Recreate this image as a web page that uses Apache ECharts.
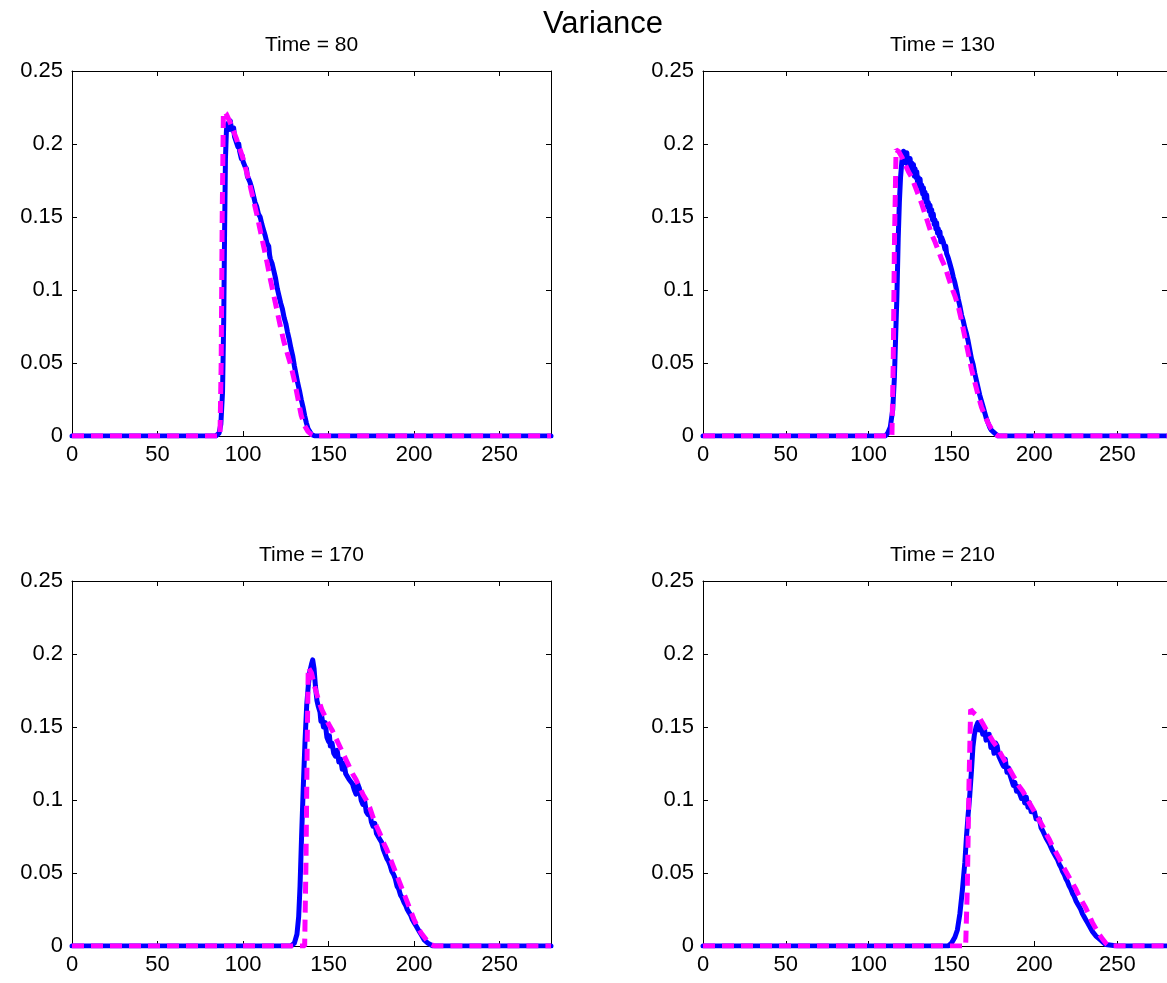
<!DOCTYPE html>
<html>
<head>
<meta charset="utf-8">
<script src="https://cdn.jsdelivr.net/npm/echarts@6/dist/echarts.min.js"></script>
<style>html,body{margin:0;padding:0;background:#fff;}#c{width:1167px;height:983px;}</style>
</head>
<body>
<div id="c"></div>
<script>
const mainTitle = 'Variance';
const panelTitles = ['Time = 80', 'Time = 130', 'Time = 170', 'Time = 210'];
const xTicks = [0, 50, 100, 150, 200, 250];
const yTicks = [0, 0.05, 0.1, 0.15, 0.2, 0.25];

const blue80 = [[0,0],[84,0],[86,0.002],[87,0.008],[88,0.03],[88.7,0.08],[89.2,0.14],[89.7,0.19],[90.3,0.21],[91,0.214],[92,0.21],[92.5,0.216],[93,0.212],[94,0.209],[94.5,0.211],[95,0.205],[96,0.204],[97,0.198],[97.5,0.2],[98,0.195],[99,0.19],[99.5,0.192],[100,0.188],[101,0.185],[102,0.183],[102.5,0.178],[103,0.179],[104,0.174],[105,0.17],[105.5,0.171],[106,0.165],[107,0.16],[107.5,0.161],[108,0.157],[109,0.152],[110,0.15],[110.5,0.151],[111,0.145],[112,0.141],[113,0.137],[113.5,0.138],[114,0.132],[115,0.13],[115.5,0.124],[116,0.121],[117,0.118],[118,0.113],[118.5,0.114],[119,0.108],[120,0.101],[121,0.096],[121.5,0.097],[122,0.091],[123,0.087],[124,0.081],[125,0.077],[126,0.071],[126.5,0.07],[127,0.066],[128,0.06],[129,0.055],[130,0.048],[131,0.042],[132,0.036],[133,0.031],[134,0.025],[135,0.02],[136,0.014],[137,0.009],[138,0.005],[139,0.003],[140,0.001],[142,0],[280,0]];
const mag80 = [[0,0],[86.5,0],[87.2,0.05],[87.8,0.15],[88.5,0.222],[90,0.221],[92,0.216],[94,0.21],[96,0.204],[98,0.197],[100,0.19],[102,0.181],[104,0.172],[106,0.162],[108,0.152],[110,0.141],[112,0.13],[114,0.119],[116,0.107],[118,0.096],[120,0.085],[122,0.074],[124,0.064],[126,0.056],[128,0.048],[130,0.038],[132,0.026],[134,0.014],[136,0.007],[138,0.003],[140,0.001],[142,0],[280,0]];

const blue130 = [[0,0],[110,0],[111.5,0.002],[113,0.006],[114.5,0.018],[115.5,0.04],[116.3,0.07],[117,0.095],[117.8,0.135],[118.5,0.16],[119.2,0.177],[120,0.188],[120.5,0.192],[121,0.195],[121.5,0.189],[122,0.193],[122.5,0.187],[123,0.194],[123.5,0.186],[124,0.19],[124.5,0.184],[125,0.19],[125.5,0.183],[126,0.187],[126.5,0.181],[127,0.186],[127.5,0.178],[128,0.183],[128.5,0.177],[129,0.181],[129.5,0.173],[130,0.177],[130.5,0.171],[131,0.176],[131.5,0.168],[132,0.172],[132.5,0.166],[133,0.17],[133.5,0.163],[134,0.167],[134.5,0.16],[135,0.165],[135.5,0.157],[136,0.16],[136.5,0.154],[137,0.158],[137.5,0.151],[138,0.155],[138.5,0.148],[139,0.152],[139.5,0.145],[140,0.148],[140.5,0.142],[141,0.146],[141.5,0.139],[142,0.142],[142.5,0.137],[143,0.14],[143.5,0.133],[144,0.136],[145,0.133],[146,0.128],[146.5,0.13],[147,0.125],[148,0.122],[149,0.118],[150,0.114],[151,0.109],[152,0.105],[153,0.1],[154,0.094],[155,0.089],[156,0.083],[157,0.079],[158,0.074],[159,0.07],[160,0.065],[161,0.059],[162,0.053],[163,0.049],[164,0.043],[165,0.038],[166,0.033],[167,0.028],[168,0.024],[169,0.02],[170,0.016],[171,0.012],[172,0.009],[173,0.006],[174,0.004],[176,0.002],[178,0],[280,0]];
const mag130 = [[0,0],[114,0],[114.8,0.05],[115.5,0.13],[116.5,0.196],[118,0.195],[120,0.191],[122,0.186],[124,0.181],[126,0.177],[128,0.171],[130,0.165],[132,0.159],[134,0.152],[136,0.145],[138,0.138],[140,0.133],[142,0.127],[144,0.121],[146,0.116],[148,0.109],[150,0.102],[152,0.096],[154,0.089],[156,0.079],[158,0.068],[160,0.057],[162,0.046],[164,0.037],[166,0.028],[168,0.02],[170,0.014],[172,0.009],[174,0.005],[176,0.002],[178,0],[280,0]];

const blue170 = [[0,0],[128,0],[130,0.002],[131.5,0.008],[132.5,0.02],[133.3,0.041],[134.2,0.075],[135.2,0.109],[136.2,0.14],[137.2,0.165],[138.1,0.178],[139,0.188],[140,0.193],[140.7,0.196],[141.5,0.19],[142.3,0.178],[143.2,0.168],[144,0.164],[145,0.16],[145.5,0.154],[146,0.157],[147,0.15],[148,0.153],[149,0.143],[150,0.14],[150.5,0.144],[151,0.137],[152,0.139],[153,0.132],[154,0.13],[155,0.134],[156,0.126],[157,0.128],[158,0.121],[159,0.125],[160,0.118],[161,0.117],[162,0.114],[163,0.115],[164,0.111],[165,0.107],[166,0.104],[167,0.111],[168,0.108],[169,0.1],[170,0.097],[171,0.1],[172,0.092],[173,0.09],[174,0.092],[175,0.085],[176,0.082],[177,0.084],[178,0.077],[179,0.076],[180,0.073],[181,0.071],[182,0.066],[183,0.066],[184,0.06],[185,0.058],[186,0.055],[187,0.051],[188,0.049],[189,0.046],[190,0.041],[191,0.039],[192,0.035],[193,0.033],[194,0.03],[195,0.028],[196,0.025],[197,0.023],[198,0.021],[199,0.018],[200,0.016],[201,0.014],[202,0.012],[203,0.01],[204,0.008],[205,0.006],[206,0.004],[208,0.002],[211,0],[280,0]];
const mag170 = [[0,0],[136,0],[136.8,0.06],[137.5,0.14],[138.1,0.191],[139,0.19],[140,0.187],[141,0.182],[142,0.177],[143,0.173],[144,0.169],[146,0.162],[148,0.157],[150,0.152],[152,0.148],[154,0.143],[156,0.138],[158,0.133],[160,0.128],[162,0.123],[164,0.118],[166,0.114],[168,0.109],[170,0.104],[172,0.1],[174,0.095],[176,0.088],[178,0.082],[180,0.077],[182,0.071],[184,0.066],[186,0.06],[188,0.054],[190,0.048],[192,0.042],[194,0.036],[196,0.03],[198,0.024],[200,0.018],[202,0.013],[204,0.009],[206,0.006],[208,0.003],[210,0.001],[212,0],[280,0]];

const blue210 = [[0,0],[148,0],[150,0.002],[152,0.006],[153.5,0.011],[155,0.022],[156.5,0.038],[158,0.057],[159,0.075],[160,0.09],[160.9,0.102],[162,0.12],[162.9,0.1365],[163.8,0.145],[164.8,0.15],[165.8,0.153],[166.8,0.148],[167.8,0.152],[168.8,0.145],[169.8,0.149],[170.8,0.141],[171.7,0.14],[172.7,0.145],[173.7,0.136],[174.6,0.14],[175.6,0.132],[176.6,0.139],[177.5,0.137],[178.5,0.13],[179.5,0.131],[180.5,0.125],[181.4,0.123],[182.4,0.128],[183.4,0.119],[184.4,0.122],[185.3,0.117],[186.3,0.117],[187.3,0.11],[188.2,0.112],[189.2,0.106],[190.2,0.109],[191.2,0.104],[192.2,0.101],[193.1,0.105],[194.1,0.098],[195.1,0.102],[196.1,0.095],[197,0.098],[198,0.092],[199,0.091],[200,0.092],[201,0.087],[202,0.086],[203,0.087],[204,0.081],[205,0.079],[206,0.08],[207,0.074],[208,0.073],[209,0.07],[210,0.069],[211,0.065],[212,0.063],[213,0.061],[214,0.059],[215,0.056],[216,0.054],[217,0.051],[218,0.049],[219,0.046],[220,0.044],[221,0.041],[222,0.039],[223,0.036],[224,0.034],[225,0.031],[226,0.029],[227,0.027],[228,0.025],[229,0.022],[230,0.02],[231,0.018],[232,0.016],[233,0.014],[234,0.012],[235,0.01],[236,0.009],[237,0.007],[238,0.006],[240,0.004],[243,0.001],[250,0],[280,0]];
const mag210 = [[0,0],[158.5,0],[159.5,0.04],[160.5,0.11],[161.5,0.162],[163,0.16],[165,0.158],[167,0.156],[169,0.152],[171,0.148],[173,0.144],[175,0.14],[177,0.137],[179,0.133],[181,0.129],[183,0.125],[185,0.121],[187,0.117],[189,0.113],[191,0.109],[193,0.106],[195,0.102],[197,0.098],[199,0.094],[201,0.09],[203,0.086],[205,0.082],[207,0.077],[209,0.073],[211,0.068],[213,0.064],[215,0.06],[217,0.055],[219,0.051],[221,0.047],[223,0.043],[225,0.039],[227,0.034],[229,0.03],[231,0.026],[233,0.021],[235,0.016],[237,0.012],[239,0.008],[241,0.005],[243,0.002],[245,0],[280,0]];

const blueSets = [blue80, blue130, blue170, blue210];
const magSets = [mag80, mag130, mag170, mag210];

const FONT = '"Liberation Sans", Arial, Helvetica, sans-serif';
const gridPos = [
  {left: 72, top: 71}, {left: 703, top: 71},
  {left: 72, top: 581}, {left: 703, top: 581}
];
const GW = 479, GH = 365;

const grids = [], xAxes = [], yAxes = [], series = [], graphics = [];
const xFmt = v => (xTicks.indexOf(v) >= 0 ? String(v) : '');
const yFmt = v => {
  const m = yTicks.find(t => Math.abs(t - v) < 1e-9);
  return m === undefined ? '' : String(m);
};

gridPos.forEach((g, i) => {
  grids.push({left: g.left, top: g.top, width: GW, height: GH, containLabel: false});
  const common = {
    type: 'value', gridIndex: i, splitLine: {show: false},
    axisLine: {show: true, onZero: false, lineStyle: {color: '#000', width: 1}},
    axisTick: {show: true, inside: true, length: 5, lineStyle: {color: '#000', width: 1}}
  };
  xAxes.push(Object.assign({}, common, {
    position: 'bottom', min: 0, max: 280, interval: 50,
    axisLabel: {show: true, color: '#000', fontSize: 22, fontFamily: FONT, margin: 8, formatter: xFmt, showMaxLabel: false}
  }));
  xAxes.push(Object.assign({}, common, {
    position: 'top', min: 0, max: 280, interval: 50,
    axisLabel: {show: false}
  }));
  yAxes.push(Object.assign({}, common, {
    position: 'left', min: 0, max: 0.25, interval: 0.05,
    axisLabel: {show: true, color: '#000', fontSize: 22, fontFamily: FONT, margin: 9, formatter: yFmt}
  }));
  yAxes.push(Object.assign({}, common, {
    position: 'right', min: 0, max: 0.25, interval: 0.05,
    axisLabel: {show: false}
  }));
  series.push({
    type: 'line', xAxisIndex: 2 * i, yAxisIndex: 2 * i, data: blueSets[i],
    showSymbol: false, symbol: 'none', smooth: false, clip: true, z: 2,
    lineStyle: {color: '#0000ff', width: 5, join: 'round', cap: 'round'}
  });
  series.push({
    type: 'line', xAxisIndex: 2 * i, yAxisIndex: 2 * i, data: magSets[i],
    showSymbol: false, symbol: 'none', smooth: false, clip: true, z: 3,
    lineStyle: {color: '#ff00ff', width: 5, type: [12, 7]}
  });
  graphics.push({
    type: 'text', x: g.left + GW / 2, y: g.top - 26,
    style: {text: panelTitles[i], fill: '#000', font: '21px ' + FONT,
      align: 'center', verticalAlign: 'middle', textAlign: 'center', textVerticalAlign: 'middle'}
  });
});

graphics.push({
  type: 'text', x: 603, y: 24,
  style: {text: mainTitle, fill: '#000', font: '31px ' + FONT,
    align: 'center', verticalAlign: 'middle', textAlign: 'center', textVerticalAlign: 'middle'}
});

const chart = echarts.init(document.getElementById('c'), null, {renderer: 'canvas'});
chart.setOption({
  animation: false,
  backgroundColor: '#fff',
  grid: grids,
  xAxis: xAxes,
  yAxis: yAxes,
  series: series,
  graphic: graphics
});
</script>
</body>
</html>
